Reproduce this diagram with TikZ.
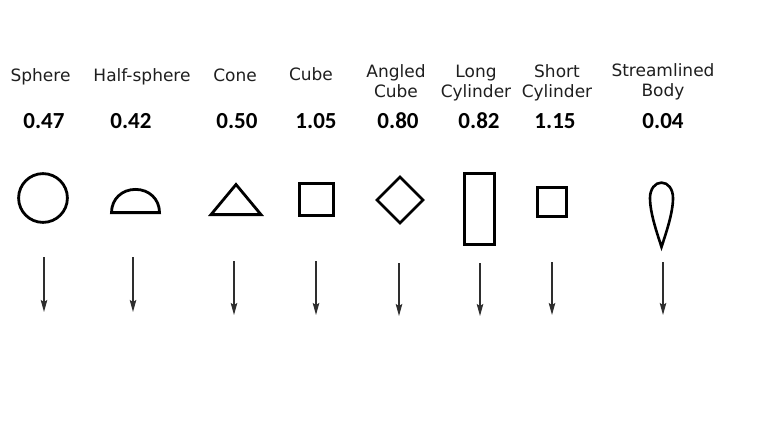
\documentclass[tikz,border=0pt]{standalone}
\usepackage{fontspec}
\setmainfont{DejaVu Sans}
\newfontfamily\numfont{Carlito}
\usetikzlibrary{arrows.meta}
\tikzset{
  lbl/.style={inner sep=0pt, text depth=0pt, anchor=south, align=center,
    text=black!88, font=\fontsize{17}{20}\selectfont},
  num/.style={inner sep=0pt, text depth=0pt, anchor=south,
    font=\numfont\bfseries\fontsize{23}{26}\selectfont},
  shp/.style={draw=black, line width=2.8pt, line join=miter},
  flow/.style={draw=black!82, line width=1.5pt,
    -{Stealth[length=12pt,width=6.5pt,inset=2pt]}},
}
\begin{document}
\begin{tikzpicture}[x=1pt,y=-1pt]
\useasboundingbox[fill=white] (0,0) rectangle (775,425);
% labels
\node[lbl] (l1) at (40.5,82) {Sphere};
\node[lbl] (l2) at (142,82) {Half-sphere};
\node[lbl] (l3) at (235,82) {Cone};
\node[lbl] (l4) at (311,81) {Cube};
\node[lbl] (l5) at (396,98) {Angled\\Cube};
\node[lbl] (l6) at (476,98) {Long\\Cylinder};
\node[lbl] (l7) at (557,98) {Short\\Cylinder};
\node[lbl] (l8) at (663,97) {Streamlined\\Body};
% numbers
\node[num] (n1) at (44,129) {0.47};
\node[num] (n2) at (131,129) {0.42};
\node[num] (n3) at (237,129) {0.50};
\node[num] (n4) at (316,129) {1.05};
\node[num] (n5) at (398,129) {0.80};
\node[num] (n6) at (479,129) {0.82};
\node[num] (n7) at (555,129) {1.15};
\node[num] (n8) at (663,129) {0.04};
% shapes
\draw[shp] (43,198) circle[radius=24.4pt];
\draw[shp] (111.5,212.6) .. controls (111.5,199) and (122,189.4) .. (135.5,189.4)
  .. controls (149,189.4) and (159.5,199) .. (159.5,212.6) -- cycle;
\draw[shp] (236,184.5) -- (261,214.6) -- (211,214.6) -- cycle;
\draw[shp] (299.4,183.4) rectangle (333.6,215.6);
\draw[shp] (377,200) -- (400,177) -- (423,200) -- (400,223) -- cycle;
\draw[shp] (464.5,173.5) rectangle (494.5,244.5);
\draw[shp] (537.4,187.4) rectangle (566.6,216.6);
\draw[shp, line width=2.6pt] (661.5,247)
  .. controls (657,233) and (650,213) .. (650,198)
  .. controls (650,189) and (655,182.6) .. (661.5,182.6)
  .. controls (668,182.6) and (673,189) .. (673,198)
  .. controls (673,213) and (666,233) .. (661.5,247) -- cycle;
% arrows
\coordinate (a1) at (44,257);  \coordinate (b1) at (44,312);
\coordinate (a2) at (133,257); \coordinate (b2) at (133,312);
\coordinate (a3) at (234,261); \coordinate (b3) at (234,315);
\coordinate (a4) at (316,261); \coordinate (b4) at (316,315);
\coordinate (a5) at (399,263); \coordinate (b5) at (399,316);
\coordinate (a6) at (480,263); \coordinate (b6) at (480,316);
\coordinate (a7) at (552,262); \coordinate (b7) at (552,315);
\coordinate (a8) at (663,262); \coordinate (b8) at (663,315);
\foreach \i in {1,...,8} {\draw[flow] (a\i) -- (b\i);}
\end{tikzpicture}
\end{document}
